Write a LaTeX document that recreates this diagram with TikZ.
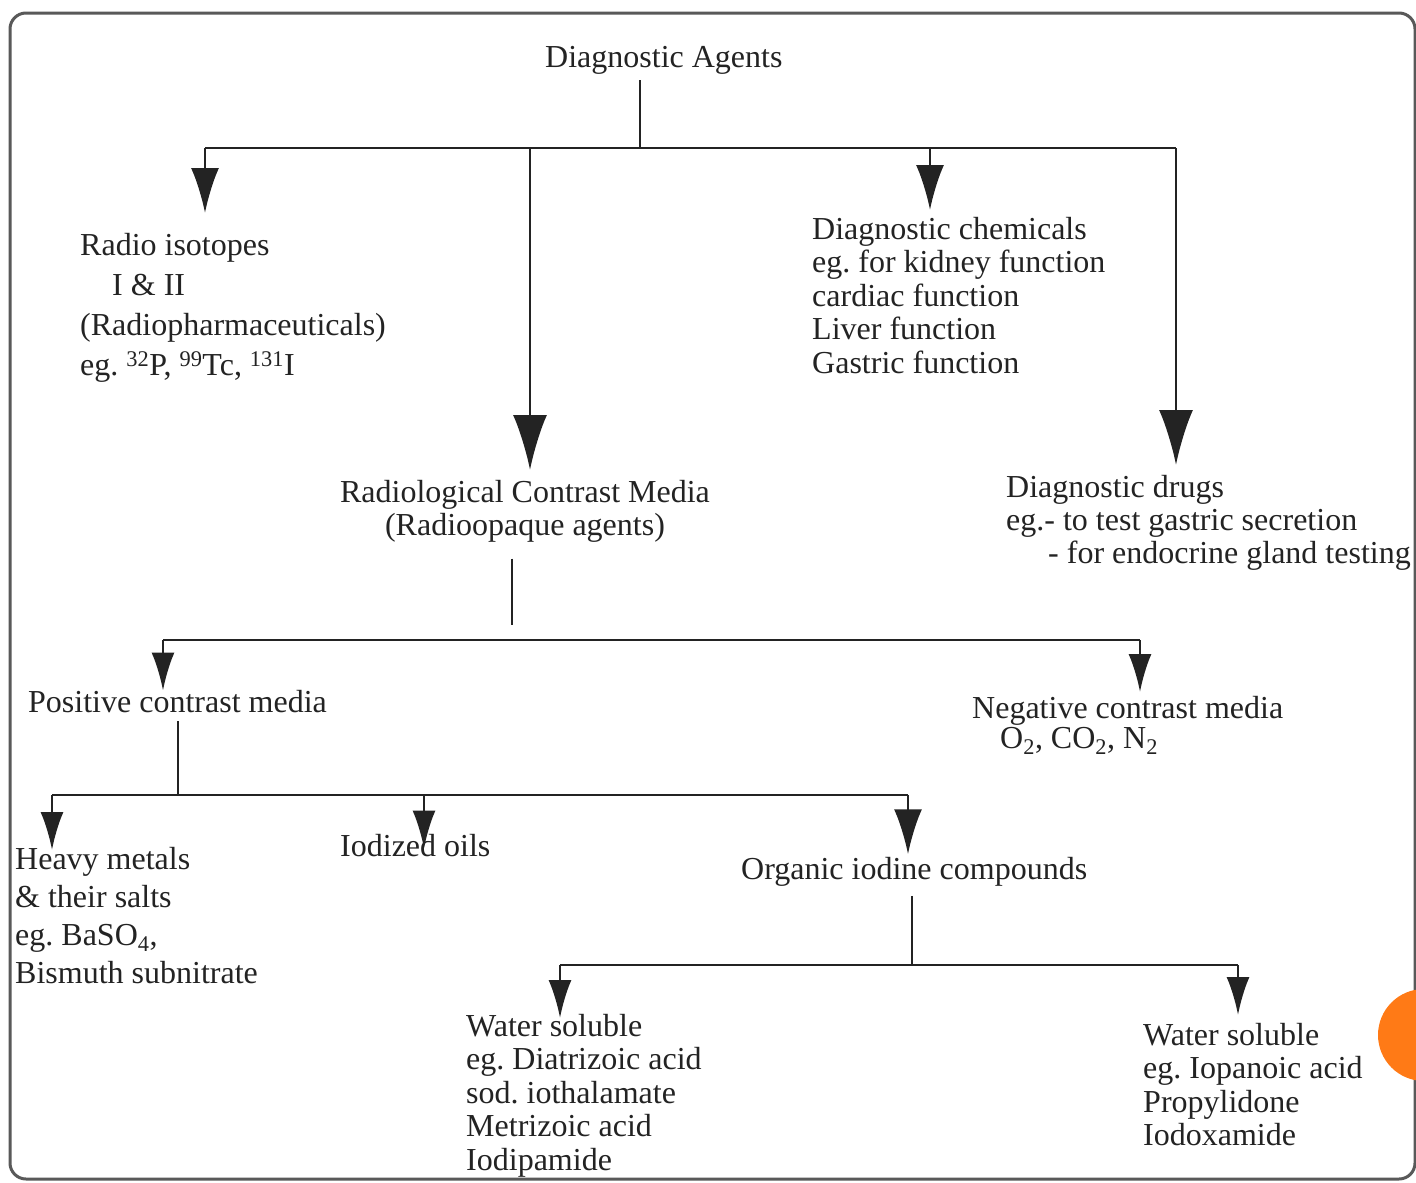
\documentclass[tikz,border=0pt]{standalone}
\usepackage{fontspec}
\setmainfont{Liberation Serif}
\usetikzlibrary{arrows.meta}
\frenchspacing
\definecolor{ink}{RGB}{35,35,35}
\definecolor{btn}{RGB}{255,122,22}
\tikzset{
  lbl/.style={inner sep=0pt,align=left,text=ink,font=\fontsize{32}{33.5}\selectfont},
  conn/.style={draw=ink,line width=2.8pt},
  bighead/.style={-{Latex[length=55pt,width=34pt]}},
  midhead/.style={-{Latex[length=45pt,width=28pt]}}
}
\begin{document}
\begin{tikzpicture}[x=1pt,y=-1pt,>={Latex[length=38pt,width=23pt]}]
\useasboundingbox (0,0) rectangle (1416,1183);
\fill[white] (0,0) rectangle (1416,1183);
\draw[line width=3pt,draw=black!65,rounded corners=16pt] (10,13) rectangle (1415,1179);
\fill[btn] (1424,1035) circle (46);

\node[lbl,anchor=west] (agents) at (545,60) {Diagnostic Agents};
\node[lbl,anchor=north west,font=\fontsize{32}{40}\selectfont] (iso) at (80,233)
  {Radio isotopes\\\hspace{32pt}I \& II\\(Radiopharmaceuticals)\\eg. \textsuperscript{32}P, \textsuperscript{99}Tc, \textsuperscript{131}I};
\node[lbl,anchor=north west] (chem) at (812,217)
  {Diagnostic chemicals\\eg. for kidney function\\cardiac function\\Liver function\\Gastric function};
\node[lbl,anchor=north,align=center,font=\fontsize{32}{33}\selectfont] (rcm) at (525,480)
  {Radiological Contrast Media\\(Radioopaque agents)};
\node[lbl,anchor=north west,font=\fontsize{32}{33}\selectfont] (drugs) at (1006,475)
  {Diagnostic drugs\\eg.- to test gastric secretion\\\hspace{42pt}- for endocrine gland testing};
\node[lbl,anchor=west] (pos) at (28,702) {Positive contrast media};
\node[lbl,anchor=north west,font=\fontsize{32}{30}\selectfont] (neg) at (972,696)
  {Negative contrast media\\\hspace{28pt}O\textsubscript{2}, CO\textsubscript{2}, N\textsubscript{2}};
\node[lbl,anchor=north west,font=\fontsize{32}{38}\selectfont] (heavy) at (15,847)
  {Heavy metals\\\& their salts\\eg. BaSO\textsubscript{4},\\Bismuth subnitrate};
\node[lbl,anchor=west] (oils) at (340,846) {Iodized oils};
\node[lbl,anchor=west] (org) at (741,872) {Organic iodine compounds};
\node[lbl,anchor=north west] (wsa) at (466,1014)
  {Water soluble\\eg. Diatrizoic acid\\sod. iothalamate\\Metrizoic acid\\Iodipamide};
\node[lbl,anchor=north west] (wsb) at (1143,1023)
  {Water soluble\\eg. Iopanoic acid\\Propylidone\\Iodoxamide};

\coordinate (ja) at (640,148);
\coordinate (ja1) at (205,148);
\coordinate (ja2) at (530,148);
\coordinate (ja3) at (930,148);
\coordinate (ja4) at (1176,148);
\coordinate (jb) at (512,640);
\coordinate (jb1) at (163,640);
\coordinate (jb2) at (1140,640);
\coordinate (jc) at (178,795);
\coordinate (jc1) at (52,795);
\coordinate (jc2) at (424,795);
\coordinate (jc3) at (908,795);
\coordinate (jd) at (912,965);
\coordinate (jd1) at (560,965);
\coordinate (jd2) at (1238,965);

\draw[conn,shorten <=6pt] (ja |- agents.south) -- (ja);
\draw[conn] (ja1) -- (ja4);
\draw[conn,midhead,shorten >=20pt] (ja1) -- (ja1 |- iso.north);
\draw[conn,bighead,shorten >=10pt] (ja2) -- (ja2 |- rcm.north);
\draw[conn,midhead,shorten >=7pt] (ja3) -- (ja3 |- chem.north);
\draw[conn,bighead,shorten >=10pt] (ja4) -- (ja4 |- drugs.north);

\draw[conn,shorten <=16pt,shorten >=15pt] (jb |- rcm.south) -- (jb);
\draw[conn] (jb1) -- (jb2);
\draw[conn,->] (jb1) -- (jb1 |- pos.north);
\draw[conn,->,shorten >=4pt] (jb2) -- (jb2 |- neg.north);

\draw[conn,shorten <=8pt] (jc |- pos.south) -- (jc);
\draw[conn] (jc1) -- (jc3);
\draw[conn,->,shorten >=-3pt] (jc1) -- (jc1 |- heavy.north);
\draw[conn,->,shorten >=-14pt] (jc2) -- (jc2 |- oils.north);
\draw[conn,midhead,shorten >=3pt] (jc3) -- (jc3 |- org.north);

\draw[conn,shorten <=9pt] (jd |- org.south) -- (jd);
\draw[conn] (jd1) -- (jd2);
\draw[conn,->,shorten >=-4pt] (jd1) -- (jd1 |- wsa.north);
\draw[conn,->,shorten >=8pt] (jd2) -- (jd2 |- wsb.north);
\end{tikzpicture}
\end{document}
